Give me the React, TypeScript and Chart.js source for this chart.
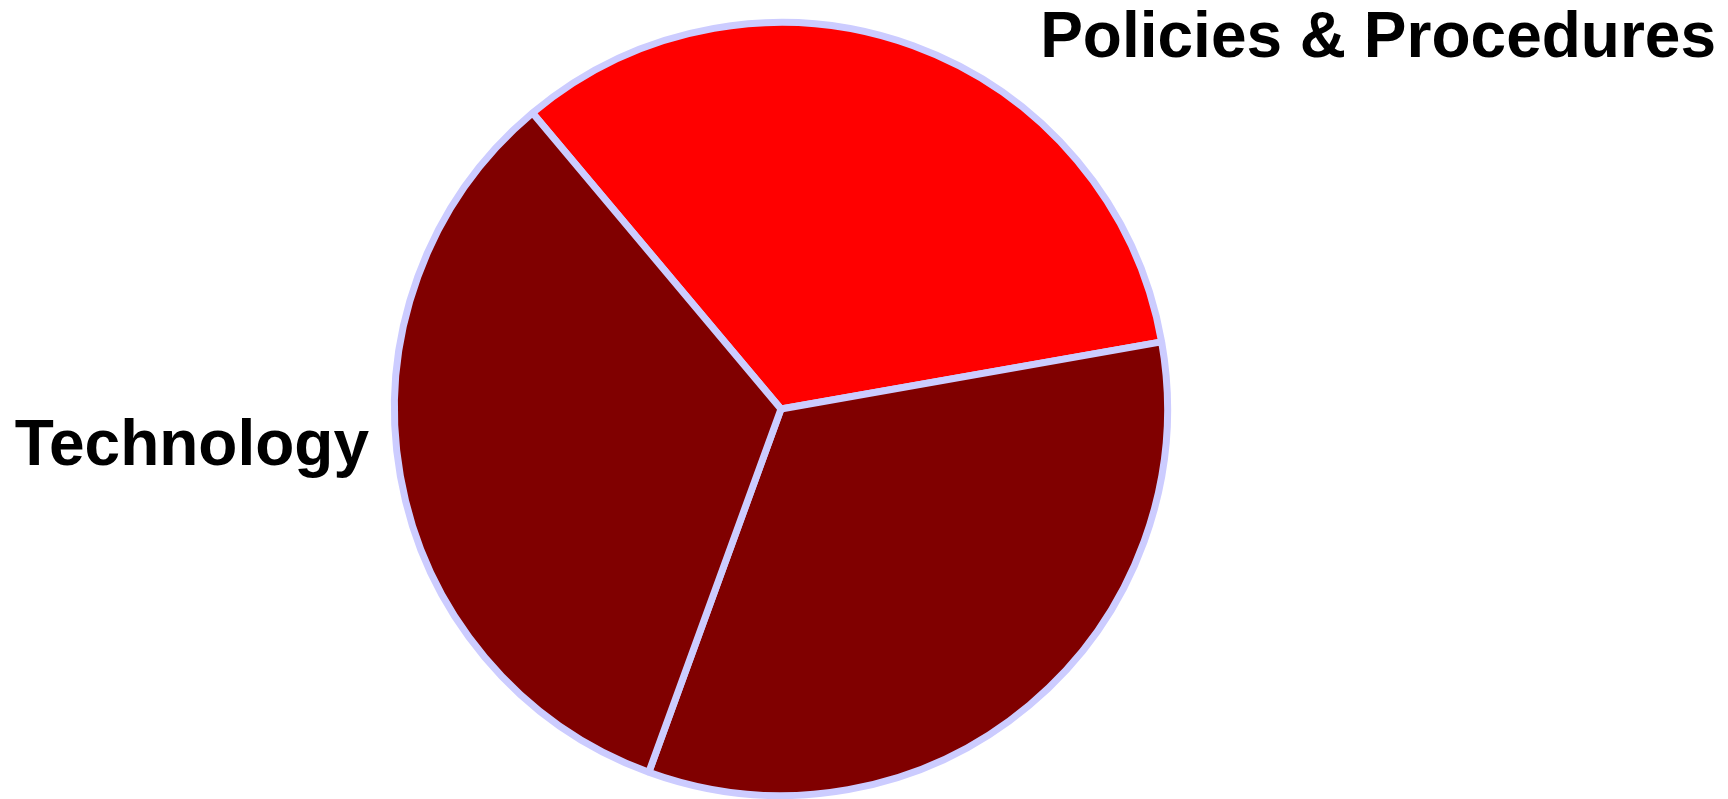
import React, { useEffect, useRef } from "react";
import { Chart, registerables } from "chart.js";

Chart.register(...registerables);

// ---- data ----
const categories: string[] = ["Policies & Procedures", "", "Technology"];
const shares: number[] = [1, 1, 1];
const sliceColors: string[] = ["#ff0000", "#800000", "#800000"];

// ---- style / layout (not data) ----
const W = 1728;
const H = 799;
const BORDER_COLOR = "#ccccff";
const BORDER_WIDTH = 7;
const LABEL_FONT = "bold 64px 'Liberation Sans', Arial, sans-serif";

// how each label is placed
type LabelPlace =
  | { mode: "topRight"; margin: number; top: number }
  | { mode: "leftOfPie"; gap: number; dy: number }
  | null;
const labelPlaces: LabelPlace[] = [
  { mode: "topRight", margin: 12, top: 7 },
  null,
  { mode: "leftOfPie", gap: 22, dy: 56 },
];

const labelPlugin = {
  id: "sliceLabels",
  afterDatasetsDraw(chart: any) {
    const ctx = chart.ctx as CanvasRenderingContext2D;
    const meta = chart.getDatasetMeta(0);
    ctx.save();
    ctx.font = LABEL_FONT;
    ctx.fillStyle = "#000000";
    meta.data.forEach((arc: any, i: number) => {
      const text = categories[i];
      const place = labelPlaces[i];
      if (!text || !place) return;
      const p = arc.getProps(["x", "y", "outerRadius"], true);
      if (place.mode === "topRight") {
        ctx.textAlign = "right";
        ctx.textBaseline = "top";
        ctx.fillText(text, chart.width - place.margin, place.top);
      } else if (place.mode === "leftOfPie") {
        ctx.textAlign = "right";
        ctx.textBaseline = "alphabetic";
        const x = p.x - p.outerRadius - BORDER_WIDTH / 2 - place.gap;
        ctx.fillText(text, x, p.y + place.dy);
      }
    });
    ctx.restore();
  },
};

export default function App() {
  const ref = useRef<HTMLCanvasElement | null>(null);
  useEffect(() => {
    if (!ref.current) return;
    const chart = new Chart(ref.current, {
      type: "pie",
      data: {
        labels: categories,
        datasets: [
          {
            data: shares,
            backgroundColor: sliceColors,
            borderColor: BORDER_COLOR,
            borderWidth: BORDER_WIDTH,
            hoverBorderWidth: BORDER_WIDTH,
          },
        ],
      },
      options: {
        responsive: false,
        animation: false,
        devicePixelRatio: 1,
        rotation: -40,
        layout: { padding: { top: 19, right: 166, left: 0, bottom: 0 } },
        plugins: {
          legend: { display: false },
          tooltip: { enabled: false },
          title: { display: false },
        },
      },
      plugins: [labelPlugin],
    });
    return () => chart.destroy();
  }, []);
  return (
    <div
      style={{
        position: "fixed",
        left: 0,
        top: 0,
        width: W,
        height: H,
        background: "#ffffff",
      }}
    >
      <canvas ref={ref} width={W} height={H} style={{ width: W, height: H }} />
    </div>
  );
}
